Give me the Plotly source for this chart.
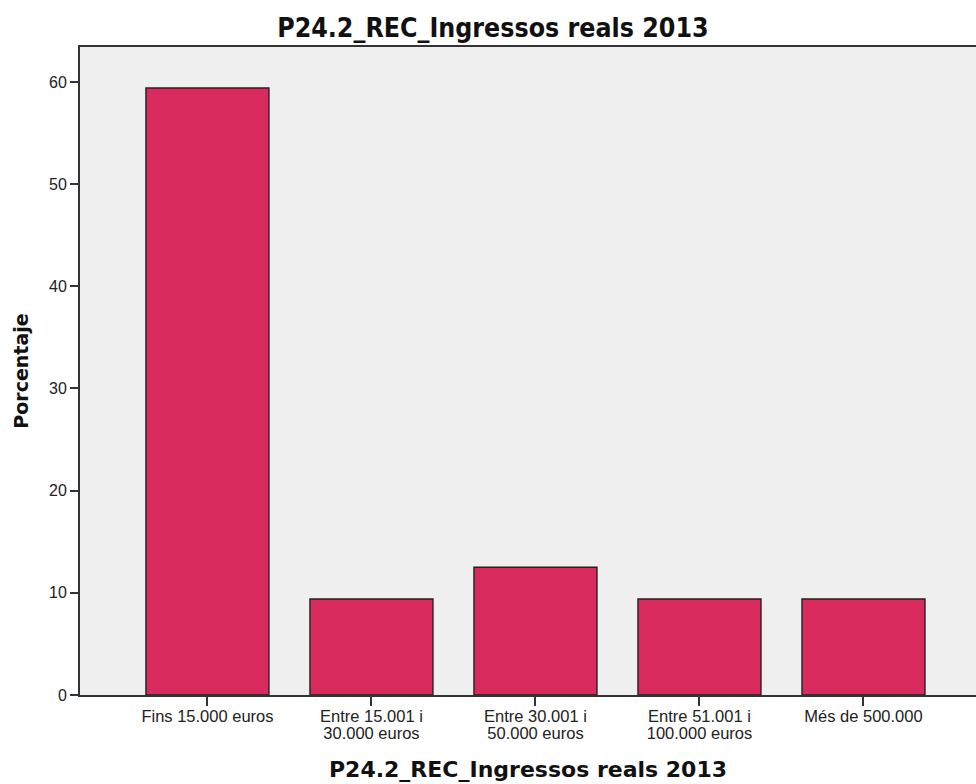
import plotly.graph_objects as go

categories = [["Fins 15.000 euros"], ["Entre 15.001 i", "30.000 euros"], ["Entre 30.001 i", "50.000 euros"],
              ["Entre 51.001 i", "100.000 euros"], ["Més de 500.000"]]
percent = [59.4, 9.4, 12.5, 9.4, 9.4]
y_ticks = [0, 10, 20, 30, 40, 50, 60]
title_text = "P24.2_REC_Ingressos reals 2013"

span = "<span style='font-size:16.5px'>{}</span>"
tick_text = ["<br>".join(span.format(line) for line in lines) for lines in categories]

fig = go.Figure(go.Bar(
    x=list(range(len(categories))), y=percent,
    marker=dict(color="#D92A5D", line=dict(color="#222222", width=1.4)),
    width=0.75, hoverinfo="skip",
))

fig.update_layout(
    width=976, height=784,
    margin=dict(l=80, r=0, t=47, b=89),
    paper_bgcolor="white", plot_bgcolor="#EFEFEF",
    title=dict(text="<b>" + title_text + "</b>", x=0.505, xanchor="center", y=0.964, yanchor="middle",
               font=dict(family="DejaVu Sans Condensed", size=26.5, color="#111111")),
    showlegend=False,
    xaxis=dict(
        range=[-0.777, 4.686], tickmode="array", tickvals=list(range(len(categories))),
        ticktext=tick_text, ticks="outside", ticklen=9, tickwidth=2, tickcolor="#333333",
        showline=True, linecolor="#333333", linewidth=2, mirror=True, showgrid=False, zeroline=False,
        tickfont=dict(family="Liberation Sans", size=13, color="#222222"),
        title=dict(text="<b>" + title_text + "</b>", standoff=21,
                   font=dict(family="DejaVu Sans", size=22, color="#111111")),
    ),
    yaxis=dict(
        range=[0, 63.42], tickmode="array", tickvals=y_ticks, ticks="outside", ticklen=8,
        tickwidth=2, tickcolor="#333333", showline=True, linecolor="#333333", linewidth=2,
        showgrid=False, zeroline=False,
        tickfont=dict(family="Liberation Sans", size=16, color="#222222"),
        title=dict(text="<b>Porcentaje</b>", standoff=15,
                   font=dict(family="DejaVu Sans", size=19, color="#111111")),
    ),
)

fig.write_html("out.html", config={"displayModeBar": False},
               post_script="document.body.style.margin='0px';document.body.style.overflow='hidden';")
